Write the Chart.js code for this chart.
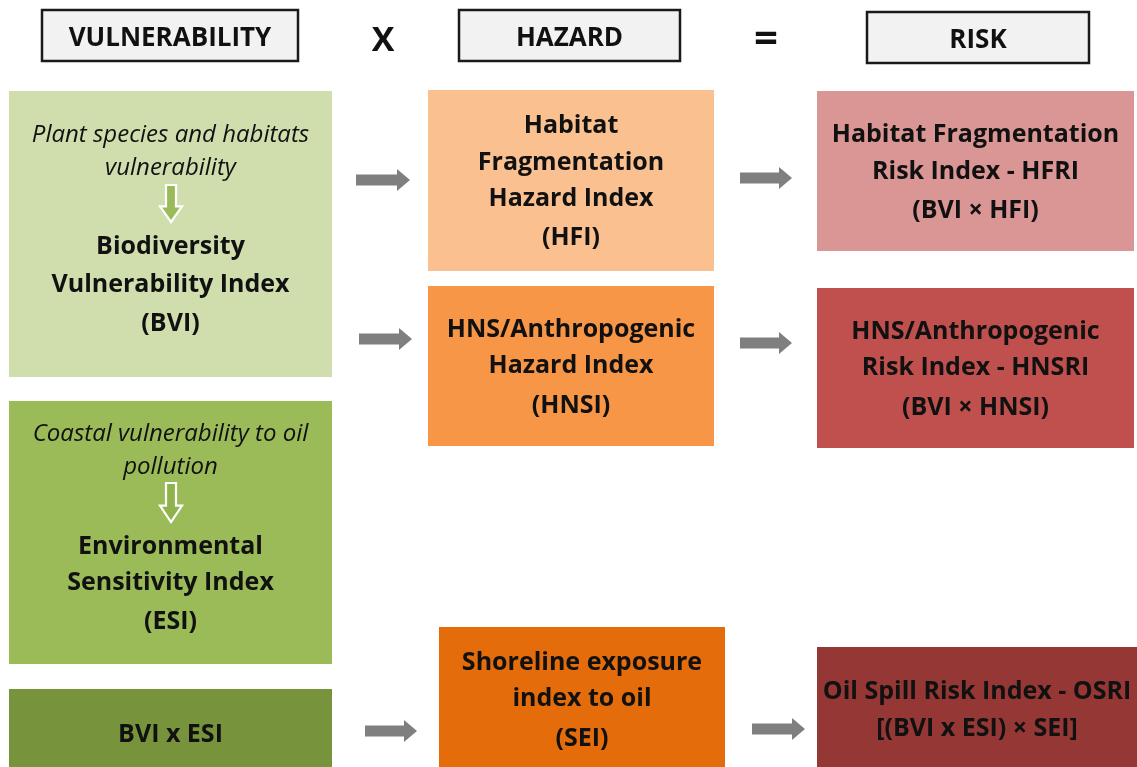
<!DOCTYPE html>
<html><head><meta charset="utf-8">
<script src="https://cdn.jsdelivr.net/npm/chart.js@4.4.1/dist/chart.umd.min.js"></script>
<style>html,body{margin:0;padding:0;background:#fff;}#wrap{width:1137px;height:767px;position:relative;}</style>
</head><body><div id="wrap"><canvas id="c"></canvas></div>
<script>
// ---- Diagram data (axis units: x 0..1137, y 0..767 top-down) ----
const headerLabels = ["VULNERABILITY", "HAZARD", "RISK"];
const headerX0 = [42, 459, 867];
const headerX1 = [298, 680, 1089];
const headerY0 = [10, 10, 12];
const headerY1 = [61, 61, 63];
const operatorLabels = ["X", "="];
const operatorX = [383, 766];
const operatorY = [39, 38];

const nodeNames = ["BVI", "ESI", "BVIxESI", "HFI", "HNSI", "SEI", "HFRI", "HNSRI", "OSRI"];
const nodeX0 = [9, 9, 9, 428, 428, 439, 817, 817, 817];
const nodeX1 = [332, 332, 332, 714, 714, 725, 1134, 1134, 1137];
const nodeY0 = [91, 401, 689, 90, 286, 627, 91, 288, 647];
const nodeY1 = [377, 664, 767, 271, 446, 767, 251, 448, 767];
const nodeColors = ["#d0deae", "#9bbb59", "#77933c", "#fac090", "#f79646", "#e46c0a", "#da9694", "#c0504d", "#953735"];
const nodeItalic = [
  ["Plant species and habitats", "vulnerability"],
  ["Coastal vulnerability to oil", "pollution"],
  [], [], [], [], [], [], []
];
const nodeItalicY = [[133, 166], [432, 465], [], [], [], [], [], [], []];
const nodeBold = [
  ["Biodiversity", "Vulnerability Index", "(BVI)"],
  ["Environmental", "Sensitivity Index", "(ESI)"],
  ["BVI x ESI"],
  ["Habitat", "Fragmentation", "Hazard Index", "(HFI)"],
  ["HNS/Anthropogenic", "Hazard Index", "(HNSI)"],
  ["Shoreline exposure", "index to oil", "(SEI)"],
  ["Habitat Fragmentation", "Risk Index - HFRI", "(BVI \u00d7 HFI)"],
  ["HNS/Anthropogenic", "Risk Index - HNSRI", "(BVI \u00d7 HNSI)"],
  ["Oil Spill Risk Index - OSRI", "[(BVI x ESI) \u00d7 SEI]"]
];
const nodeBoldY = [
  [245, 283, 322], [545, 581, 620], [733],
  [124, 161, 197, 236], [328, 364, 404], [661, 697, 737],
  [133, 170, 209], [330, 366, 406], [690, 727]
];
// inner hollow down-arrows (inside green boxes)
const downArrowX = [171, 171];
const downArrowY0 = [185, 483];
const downArrowY1 = [222, 522];
const downArrowFill = ["#9bbb59", "#8fb34a"];
// grey flow arrows
const flowX0 = [356, 359, 740, 740, 365, 752];
const flowX1 = [410, 412, 792, 792, 417, 805];
const flowY  = [180, 339, 178, 343, 731, 729];

const FONT = "'Open Sans', Lato, sans-serif";
const TEXT_DY = 2;

function fitText(ctx, t, x, y, maxW) {
  const w = ctx.measureText(t).width;
  if (w > maxW) {
    ctx.save(); ctx.translate(x, y); ctx.scale(maxW / w, 1); ctx.fillText(t, 0, 0); ctx.restore();
  } else ctx.fillText(t, x, y);
}

const diagramPlugin = {
  id: 'diagram',
  afterDatasetsDraw(chart) {
    const ctx = chart.ctx, xs = chart.scales.x, ys = chart.scales.y;
    const X = v => xs.getPixelForValue(v), Y = v => ys.getPixelForValue(v);
    ctx.save();
    ctx.textAlign = 'center'; ctx.textBaseline = 'middle';
    // headers
    headerLabels.forEach((t, i) => {
      const x0 = X(headerX0[i]), x1 = X(headerX1[i]), y0 = Y(headerY0[i]), y1 = Y(headerY1[i]);
      ctx.fillStyle = '#f2f2f2'; ctx.fillRect(x0, y0, x1 - x0, y1 - y0);
      ctx.strokeStyle = '#1a1a1a'; ctx.lineWidth = 2.5; ctx.strokeRect(x0, y0, x1 - x0, y1 - y0);
      ctx.fillStyle = '#111'; ctx.font = "bold 26px " + FONT;
      fitText(ctx, t, (x0 + x1) / 2, (y0 + y1) / 2 + 1 + TEXT_DY, 222);
    });
    operatorLabels.forEach((t, i) => {
      ctx.fillStyle = '#111'; ctx.font = "bold " + (t === '=' ? 42 : 34) + "px " + FONT;
      ctx.fillText(t, X(operatorX[i]), Y(operatorY[i]) + TEXT_DY);
    });
    // nodes
    nodeNames.forEach((n, i) => {
      const x0 = X(nodeX0[i]), x1 = X(nodeX1[i]), y0 = Y(nodeY0[i]), y1 = Y(nodeY1[i]);
      ctx.fillStyle = nodeColors[i]; ctx.fillRect(x0, y0, x1 - x0, y1 - y0);
      const cx = (x0 + x1) / 2;
      ctx.fillStyle = '#111';
      ctx.font = "italic 24px " + FONT;
      nodeItalic[i].forEach((t, k) => fitText(ctx, t, cx, Y(nodeItalicY[i][k]) + TEXT_DY, 290));
      ctx.font = "bold 25px " + FONT;
      nodeBold[i].forEach((t, k) => fitText(ctx, t, cx, Y(nodeBoldY[i][k]) + TEXT_DY, (x1 - x0) - 8));
    });
    // hollow down arrows
    downArrowX.forEach((ax, i) => {
      const cx = X(ax), y0 = Y(downArrowY0[i]), y1 = Y(downArrowY1[i]);
      const hy = y0 + (y1 - y0) * 0.58;
      ctx.beginPath();
      ctx.moveTo(cx - 5, y0); ctx.lineTo(cx + 5, y0); ctx.lineTo(cx + 5, hy);
      ctx.lineTo(cx + 11, hy); ctx.lineTo(cx, y1); ctx.lineTo(cx - 11, hy);
      ctx.lineTo(cx - 5, hy); ctx.closePath();
      ctx.fillStyle = downArrowFill[i]; ctx.fill();
      ctx.strokeStyle = '#ffffff'; ctx.lineWidth = 2.2; ctx.stroke();
    });
    // grey flow arrows
    flowX0.forEach((fx, i) => {
      const x0 = X(fx), x1 = X(flowX1[i]), cy = Y(flowY[i]);
      const hx = x1 - 13;
      ctx.beginPath();
      ctx.moveTo(x0, cy - 5.5); ctx.lineTo(hx, cy - 5.5); ctx.lineTo(hx, cy - 11);
      ctx.lineTo(x1, cy); ctx.lineTo(hx, cy + 11); ctx.lineTo(hx, cy + 5.5);
      ctx.lineTo(x0, cy + 5.5); ctx.closePath();
      ctx.fillStyle = '#7f7f7f'; ctx.fill();
    });
    ctx.restore();
  }
};

new Chart(document.getElementById('c'), {
  type: 'scatter',
  data: { datasets: [{
    label: 'nodes',
    data: nodeNames.map((n, i) => ({ x: (nodeX0[i] + nodeX1[i]) / 2, y: (nodeY0[i] + nodeY1[i]) / 2 })),
    pointRadius: 0, pointHoverRadius: 0
  }] },
  options: {
    responsive: true, maintainAspectRatio: false, animation: false,
    layout: { padding: 0 },
    plugins: { legend: { display: false }, tooltip: { enabled: false } },
    events: [],
    scales: {
      x: { type: 'linear', min: 0, max: 1137, display: false },
      y: { type: 'linear', min: 0, max: 767, reverse: true, display: false }
    }
  },
  plugins: [diagramPlugin]
});
</script>
</body></html>
